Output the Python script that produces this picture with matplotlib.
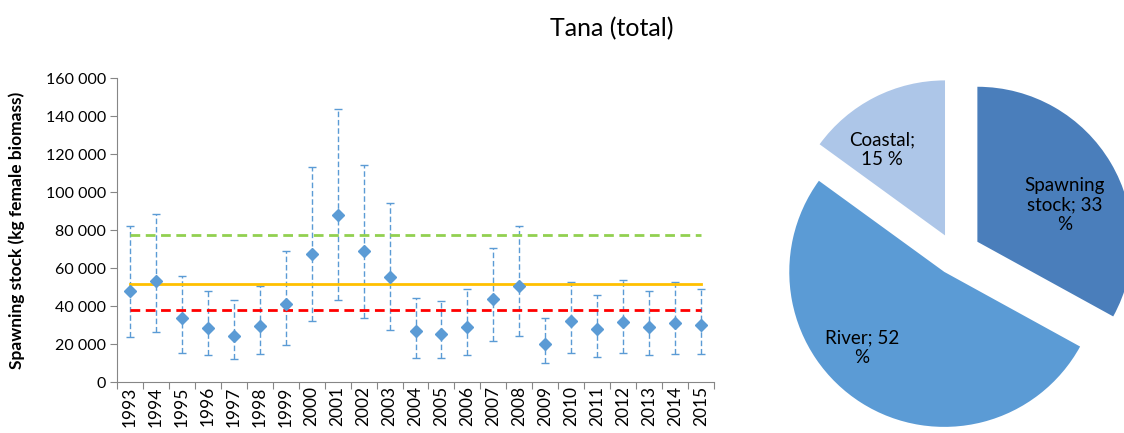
import matplotlib
matplotlib.use("Agg")
import matplotlib.pyplot as plt
import numpy as np

plt.rcParams['font.family'] = ['Lato', 'DejaVu Sans']

years = [str(y) for y in range(1993, 2016)]
stock = [48000, 53300, 33700, 28300, 24200, 29700, 41000, 67400, 87700, 68800, 55300, 26800,
         25400, 28800, 43700, 50500, 20200, 32300, 27700, 31600, 29000, 30900, 30200]
upper = [82300, 88400, 55800, 47900, 43200, 50700, 68800, 113300, 143700, 114000, 94400, 44400,
         42500, 49100, 70700, 82300, 33700, 52600, 45800, 53900, 47900, 52600, 49100]
lower = [23500, 26300, 15300, 14000, 12100, 14700, 19500, 32300, 43200, 33700, 27500, 12600,
         12600, 14000, 21400, 24000, 10000, 15300, 13300, 15300, 14000, 14700, 14700]
green_level = 77400
orange_level = 51600
red_level = 38100

pie_labels = ['Spawning\nstock; 33\n%', 'River; 52\n%', 'Coastal;\n15 %']
pie_values = [33, 52, 15]
pie_colors = ['#4A7EBB', '#5B9BD5', '#ADC6E8']

W, H = 1124, 433
fig = plt.figure(figsize=(W / 100, H / 100), dpi=100)

ax = fig.add_axes([117 / W, 1 - 382 / H, (714 - 117) / W, (382 - 78) / H])
x = np.arange(1, len(years) + 1)
stock_a = np.array(stock)
yerr = [stock_a - np.array(lower), np.array(upper) - stock_a]
blue = '#5B9BD5'
eb = ax.errorbar(x, stock_a, yerr=yerr, fmt='none', ecolor=blue, elinewidth=1.0,
                 capsize=3, capthick=1.0, zorder=2)
eb[2][0].set_linestyle((0, (4, 2)))
ax.plot(x, [green_level] * len(x), color='#92D050', lw=2, ls=(0, (3.5, 2)), zorder=3)
ax.plot(x, [orange_level] * len(x), color='#FFC000', lw=2, ls='-', zorder=3)
ax.plot(x, [red_level] * len(x), color='#FF0000', lw=2, ls=(0, (3.5, 2)), zorder=3)
ax.plot(x, stock_a, ls='none', marker='D', ms=6.5, color=blue, zorder=4)

ax.set_xlim(0.5, len(years) + 0.5)
ax.set_ylim(0, 160000)
ax.set_yticks(np.arange(0, 160001, 20000))
ax.set_yticklabels(['0' if v == 0 else f'{v // 1000} 000' for v in range(0, 160001, 20000)],
                   fontsize=11.5)
ax.set_xticks(np.arange(0.5, len(years) + 1, 1))
ax.set_xticklabels([])
ax.set_xticks(x, minor=True)
ax.set_xticklabels(years, minor=True, rotation=90, fontsize=12.5)
ax.tick_params(axis='x', which='minor', length=0, pad=3)
ax.tick_params(axis='x', which='major', length=5, color='#868686', direction='out')
ax.tick_params(axis='y', length=5, color='#868686', direction='out', pad=3)
for s in ['top', 'right']:
    ax.spines[s].set_visible(False)
for s in ['left', 'bottom']:
    ax.spines[s].set_color('#868686')
ax.set_ylabel('Spawning stock (kg female biomass)', fontsize=12.5, fontweight='bold')
ax.yaxis.set_label_coords((25 - 117) / (714 - 117), 0.5)

fig.text(612 / W, 1 - 29 / H, 'Tana (total)', ha='center', va='center', fontsize=18)

pax = fig.add_axes([0, 0, 1, 1])
cx, cy, r = 955, H - 255, 155
wedges, texts = pax.pie(pie_values, labels=pie_labels, colors=pie_colors, startangle=90,
                        counterclock=False, center=(cx, cy), radius=r,
                        explode=[26, 20, 22], labeldistance=0.62,
                        textprops=dict(fontsize=13.5, ha='center', va='center', color='black'),
                        wedgeprops=dict(linewidth=0))
label_pos = [(1065, H - 205), (862, H - 348), (882, H - 150)]
for t, p in zip(texts, label_pos):
    t.set_horizontalalignment('center')
    t.set_multialignment('center')
    t.set_position(p)
pax.set_xlim(0, W)
pax.set_ylim(0, H)
pax.set_aspect('auto')
pax.axis('off')

fig.savefig('out.png', dpi=100)
